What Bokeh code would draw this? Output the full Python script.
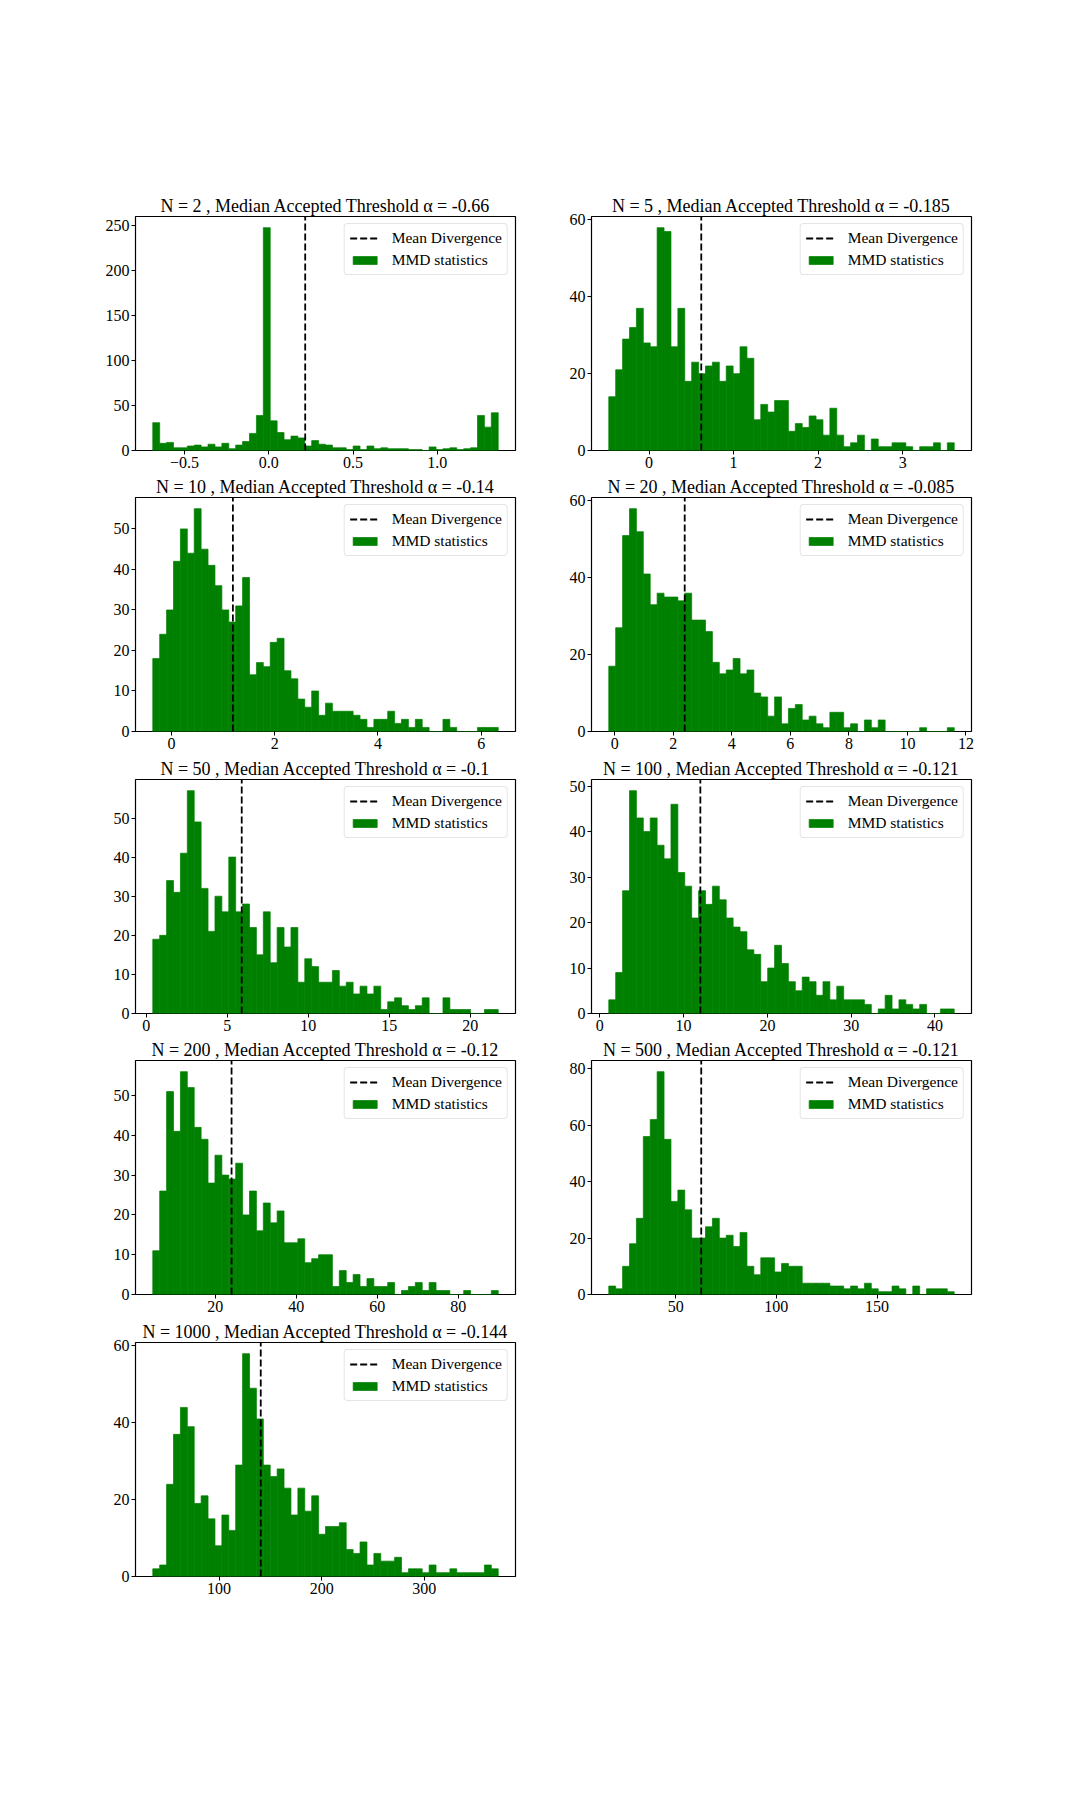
import numpy as np
from bokeh.plotting import figure
from bokeh.models import Range1d, FixedTicker, Legend, LegendItem, Spacer
from bokeh.layouts import column, row
from bokeh.embed import file_html
from bokeh.resources import INLINE

# ---------------- data ----------------
sample_sizes = [2, 5, 10, 20, 50, 100, 200, 500, 1000]
median_alpha = ["-0.66", "-0.185", "-0.14", "-0.085", "-0.1", "-0.121", "-0.12", "-0.121", "-0.144"]
mean_divergence = [0.216, 0.618, 1.19, 2.39, 5.9, 12.0, 24.0, 62.7, 140.6]
bin_start = [-0.689, -0.476, -0.362, -0.205, 0.41, 1.07, 4.53, 16.8, 35.3]
bin_end = [1.362, 3.61, 6.33, 11.6, 21.73, 42.3, 89.9, 188.3, 372.2]

counts_n2 = [31, 8, 9, 3, 3, 5, 6, 4, 7, 4, 8, 2, 6, 10, 19, 39, 248, 33, 20, 12,
             16, 14, 5, 11, 7, 6, 3, 3, 1, 5, 1, 5, 2, 3, 2, 2, 2, 1, 1, 0,
             4, 1, 2, 3, 1, 2, 3, 39, 26, 42]
counts_n5 = [14, 21, 29, 32, 37, 28, 27, 58, 57, 27, 37, 18, 23, 20, 22, 23, 18, 22, 20, 27,
             24, 8, 12, 10, 13, 13, 5, 7, 6, 9, 8, 4, 11, 4, 1, 2, 4, 0, 3, 1,
             1, 2, 2, 1, 0, 1, 1, 2, 0, 2]
counts_n10 = [18, 24, 30, 42, 50, 44, 55, 45, 41, 36, 30, 27, 31, 38, 14, 17, 16, 22, 23, 15,
              13, 8, 6, 10, 4, 7, 5, 5, 5, 4, 3, 1, 3, 3, 5, 2, 3, 1, 3, 1,
              0, 0, 3, 1, 0, 0, 0, 1, 1, 1]
counts_n20 = [17, 27, 51, 58, 52, 41, 33, 36, 35, 35, 34, 36, 29, 29, 26, 18, 15, 16, 19, 15,
              16, 10, 9, 4, 9, 2, 6, 7, 3, 4, 2, 1, 5, 5, 1, 2, 0, 3, 1, 3,
              0, 0, 0, 0, 0, 1, 0, 0, 0, 1]
counts_n50 = [19, 20, 34, 31, 41, 57, 49, 32, 21, 30, 26, 40, 26, 28, 22, 15, 26, 13, 22, 17,
              22, 8, 14, 12, 8, 8, 11, 7, 8, 5, 7, 5, 7, 1, 3, 4, 2, 1, 2, 4,
              0, 0, 4, 1, 1, 1, 0, 0, 1, 1]
counts_n100 = [3, 9, 27, 49, 43, 40, 43, 37, 34, 46, 31, 28, 21, 27, 24, 28, 25, 21, 19, 18,
               14, 13, 7, 10, 15, 11, 7, 5, 8, 7, 4, 7, 3, 6, 3, 3, 3, 2, 0, 1,
               4, 1, 3, 2, 1, 2, 0, 0, 1, 1]
counts_n200 = [11, 26, 51, 41, 56, 52, 42, 39, 28, 35, 30, 29, 33, 20, 26, 16, 23, 18, 21, 13,
               13, 14, 8, 9, 10, 10, 2, 6, 3, 5, 2, 4, 2, 2, 3, 0, 1, 2, 3, 1,
               3, 1, 1, 0, 0, 1, 0, 0, 0, 1]
counts_n500 = [3, 2, 10, 18, 27, 56, 62, 79, 55, 33, 37, 30, 20, 20, 24, 27, 20, 21, 17, 22,
               10, 7, 13, 13, 8, 11, 10, 10, 4, 4, 4, 4, 3, 3, 2, 3, 2, 4, 2, 1,
               1, 3, 2, 0, 3, 0, 2, 2, 2, 1]
counts_n1000 = [2, 3, 24, 37, 44, 39, 19, 21, 15, 8, 16, 12, 29, 58, 49, 41, 29, 26, 28, 23,
                16, 23, 17, 21, 11, 13, 13, 14, 7, 6, 9, 3, 6, 4, 4, 5, 1, 2, 2, 1,
                3, 1, 1, 2, 1, 1, 1, 1, 3, 2]

all_counts = [counts_n2, counts_n5, counts_n10, counts_n20, counts_n50,
              counts_n100, counts_n200, counts_n500, counts_n1000]

x_tick_values = [[-0.5, 0.0, 0.5, 1.0], [0, 1, 2, 3], [0, 2, 4, 6], [0, 2, 4, 6, 8, 10, 12],
                 [0, 5, 10, 15, 20], [0, 10, 20, 30, 40], [20, 40, 60, 80], [50, 100, 150],
                 [100, 200, 300]]
x_tick_labels = [["\u22120.5", "0.0", "0.5", "1.0"], ["0", "1", "2", "3"], ["0", "2", "4", "6"],
                 ["0", "2", "4", "6", "8", "10", "12"], ["0", "5", "10", "15", "20"],
                 ["0", "10", "20", "30", "40"], ["20", "40", "60", "80"], ["50", "100", "150"],
                 ["100", "200", "300"]]
y_tick_values = [[0, 50, 100, 150, 200, 250], [0, 20, 40, 60], [0, 10, 20, 30, 40, 50],
                 [0, 20, 40, 60], [0, 10, 20, 30, 40, 50], [0, 10, 20, 30, 40, 50],
                 [0, 10, 20, 30, 40, 50], [0, 20, 40, 60, 80], [0, 20, 40, 60]]

FONT = "Liberation Serif"
BAR_COLOR = "#008000"


def make_plot(i, left_border, bottom_border):
    counts = all_counts[i]
    lo, hi = bin_start[i], bin_end[i]
    edges = np.linspace(lo, hi, len(counts) + 1)
    pad = 0.05 * (hi - lo)
    p = figure(frame_width=380, frame_height=234,
               x_range=Range1d(lo - pad, hi + pad),
               y_range=Range1d(0, max(counts) * 1.05),
               output_backend="svg", toolbar_location=None,
               min_border_left=left_border, min_border_right=10,
               min_border_top=24, min_border_bottom=bottom_border,
               background_fill_color="white", border_fill_color="white",
               outline_line_color="black", outline_line_width=1.2)
    p.title.text = f"N = {sample_sizes[i]} , Median Accepted Threshold \u03b1 = {median_alpha[i]}"
    p.title.text_font = FONT
    p.title.text_font_size = "18px"
    p.title.text_font_style = "normal"
    p.title.text_color = "black"
    p.title.align = "center"
    p.title.standoff = 2

    bars = p.quad(left=edges[:-1], right=edges[1:], bottom=0, top=counts,
                  fill_color=BAR_COLOR, line_color=BAR_COLOR, line_width=0.7)
    ray = p.ray(x=[mean_divergence[i]], y=[0], length=0, angle=np.pi / 2,
                line_color="black", line_dash="7 3", line_width=1.8)

    legend = Legend(items=[LegendItem(label="Mean Divergence", renderers=[ray]),
                           LegendItem(label="MMD statistics", renderers=[bars])],
                    location="top_right", orientation="vertical",
                    label_text_font=FONT, label_text_font_size="15.5px",
                    label_text_color="black",
                    glyph_width=30, glyph_height=10, label_standoff=12,
                    padding=5, spacing=4, margin=7,
                    border_line_color="#cccccc", border_line_width=1,
                    background_fill_color="white", background_fill_alpha=0.8)
    try:
        if "border_radius" in Legend.properties():
            legend.border_radius = 4
    except Exception:
        pass
    p.add_layout(legend)

    p.xgrid.visible = False
    p.ygrid.visible = False
    p.xaxis.ticker = FixedTicker(ticks=x_tick_values[i])
    p.xaxis.major_label_overrides = {v: s for v, s in zip(x_tick_values[i], x_tick_labels[i])}
    p.yaxis.ticker = FixedTicker(ticks=y_tick_values[i])
    p.yaxis.major_label_overrides = {v: str(v) for v in y_tick_values[i]}
    for ax in (p.xaxis[0], p.yaxis[0]):
        ax.axis_line_color = None
        ax.major_tick_line_color = "black"
        ax.major_tick_out = 4
        ax.major_tick_in = 0
        ax.minor_tick_line_color = None
        ax.major_label_text_font = FONT
        ax.major_label_text_font_size = "16px"
        ax.major_label_text_color = "black"
        ax.major_label_standoff = 2
    return p


bottom_borders = [23, 24, 23, 24, 23]
plots = []
for k in range(len(sample_sizes)):
    plots.append(make_plot(k, 50 if k % 2 == 0 else 66, bottom_borders[k // 2]))

rows = [Spacer(width=10, height=192)]
for r in range(0, len(plots), 2):
    items = [Spacer(width=85, height=10)] + plots[r:r + 2]
    rows.append(row(*items))
layout = column(*rows)

open("out.html", "w").write(file_html(layout, INLINE, title="MMD statistics"))
